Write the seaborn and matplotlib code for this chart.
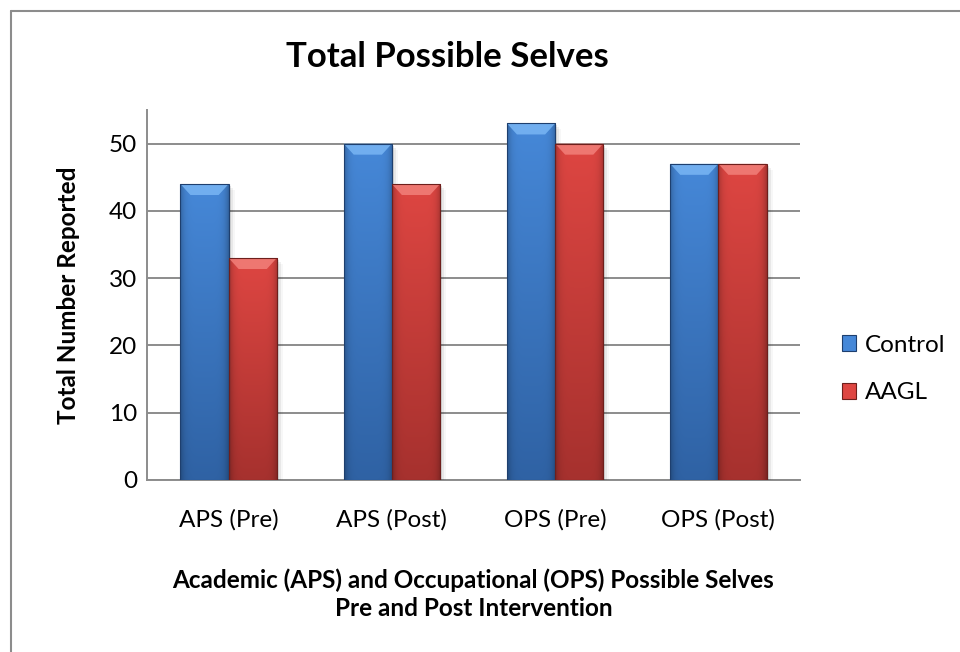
import numpy as np
import pandas as pd
import matplotlib
matplotlib.use("Agg")
import matplotlib.pyplot as plt
import seaborn as sns
from matplotlib.patches import Polygon, Patch
from matplotlib.lines import Line2D

# Counts of possible selves reported, by group
categories = ["APS (Pre)", "APS (Post)", "OPS (Pre)", "OPS (Post)"]
control = [44, 50, 53, 47]
aagl = [33, 44, 50, 47]
groups = ["Control", "AAGL"]

df = pd.DataFrame({
    "category": categories * 2,
    "value": control + aagl,
    "group": ["Control"] * len(categories) + ["AAGL"] * len(categories),
})

sns.set_theme(style="white")
plt.rcParams["font.family"] = ["Lato", "DejaVu Sans"]
plt.rcParams["text.color"] = "black"
plt.rcParams["axes.labelcolor"] = "black"

palette = {"Control": "#3B78C6", "AAGL": "#CC3B37"}
# top colour, bottom colour, bevel highlight, edge colour
shades = {
    "Control": ("#4688D8", "#2F62A4", "#79B6F4", "#1E3F6E"),
    "AAGL": ("#DE4642", "#A6312E", "#F2807A", "#6E1F1C"),
}

FS = 17.5

fig = plt.figure(figsize=(9.6, 6.52), dpi=100)
ax = fig.add_axes([147 / 960, 172 / 652, (800 - 147) / 960, (542 - 172) / 652])

sns.barplot(data=df, x="category", y="value", hue="group", hue_order=groups,
            palette=palette, width=0.59, gap=0, ax=ax, legend=False,
            saturation=1, zorder=3)

ax.set_ylim(0, 55)
ax.set_yticks(range(0, 51, 10))
ax.set_xlim(-0.5, len(categories) - 0.5)

# Horizontal gridlines
ax.yaxis.grid(True, color="#8C8C8C", linewidth=1.4, zorder=0)
ax.set_axisbelow(True)

for side in ["top", "right"]:
    ax.spines[side].set_visible(False)
for side in ["left", "bottom"]:
    ax.spines[side].set_color("#8C8C8C")
    ax.spines[side].set_linewidth(1.4)
ax.tick_params(axis="both", length=0, labelsize=FS, colors="#000000")
ax.tick_params(axis="y", pad=7)
ax.tick_params(axis="x", pad=21)

ax.set_xlabel("Academic (APS) and Occupational (OPS) Possible Selves\nPre and Post Intervention",
              fontsize=FS, fontweight="bold", labelpad=27, linespacing=1.3)
ax.set_ylabel("Total Number Reported", fontsize=FS, fontweight="bold", labelpad=21)

fig.text(0.466, 0.912, "Total Possible Selves", ha="center", va="center",
         fontsize=25, fontweight="bold")

# Shaded, bevelled bars
n_cat = len(categories)
bars = list(ax.patches)
px_per_x = ax.bbox.width / (len(categories))
px_per_y = ax.bbox.height / 55.0
for i, p in enumerate(bars):
    grp = groups[i // n_cat]
    top_c, bot_c, hi_c, edge_c = shades[grp]
    x0, w, h = p.get_x(), p.get_width(), p.get_height()
    if h <= 0:
        continue
    top_rgb = np.array(matplotlib.colors.to_rgb(top_c))
    bot_rgb = np.array(matplotlib.colors.to_rgb(bot_c))
    ny, nx = 200, 60
    v = np.linspace(0, 1, ny)[:, None, None]
    u = np.linspace(0, 1, nx)[None, :, None]
    img = top_rgb * (1 - v) + bot_rgb * v
    edge = ((u - 0.5) * 2) ** 6
    img = img * (1 - 0.25 * edge)
    img = np.clip(img, 0, 1)
    im = ax.imshow(img, extent=(x0, x0 + w, 0, h), aspect="auto",
                   origin="upper", zorder=3.1, interpolation="bilinear")
    im.set_clip_path(p)
    p.set_facecolor("none")
    p.set_edgecolor(edge_c)
    p.set_linewidth(0.8)
    p.set_zorder(3.3)
    # top bevel
    dx = 10 / px_per_x
    dy = 11 / px_per_y
    bevel = Polygon([(x0, h), (x0 + w, h), (x0 + w - dx, h - dy), (x0 + dx, h - dy)],
                    closed=True, facecolor=hi_c, edgecolor="none", alpha=0.85, zorder=3.2)
    ax.add_patch(bevel)
    # soft drop shadow
    for k, a in enumerate([0.10, 0.06, 0.03]):
        off = (k + 1) * 2
        sh = plt.Rectangle((x0 + off / px_per_x, -off / px_per_y), w, h,
                           facecolor="black", alpha=a, edgecolor="none",
                           zorder=2.9, clip_on=True)
        ax.add_patch(sh)

ax.set_xlim(-0.5, len(categories) - 0.5)
ax.set_ylim(0, 55)

# Legend
handles = [Patch(facecolor=shades[g][0], edgecolor=shades[g][3], linewidth=0.8, label=g)
           for g in groups]
fig.legend(handles=handles, loc="center left", bbox_to_anchor=(832 / 960, 1 - 369 / 652),
           frameon=False, fontsize=FS, handlelength=0.6, handleheight=0.6,
           handletextpad=0.35, labelspacing=1.1, borderaxespad=0)

# Chart area border
fig.add_artist(Line2D([11 / 960, 11 / 960], [0, 1 - 10.5 / 652], transform=fig.transFigure,
                      color="#8C8C8C", linewidth=1.5))
fig.add_artist(Line2D([11 / 960, 1], [1 - 10.5 / 652, 1 - 10.5 / 652], transform=fig.transFigure,
                      color="#8C8C8C", linewidth=1.5))

fig.savefig("out.png", dpi=100, facecolor="white")
